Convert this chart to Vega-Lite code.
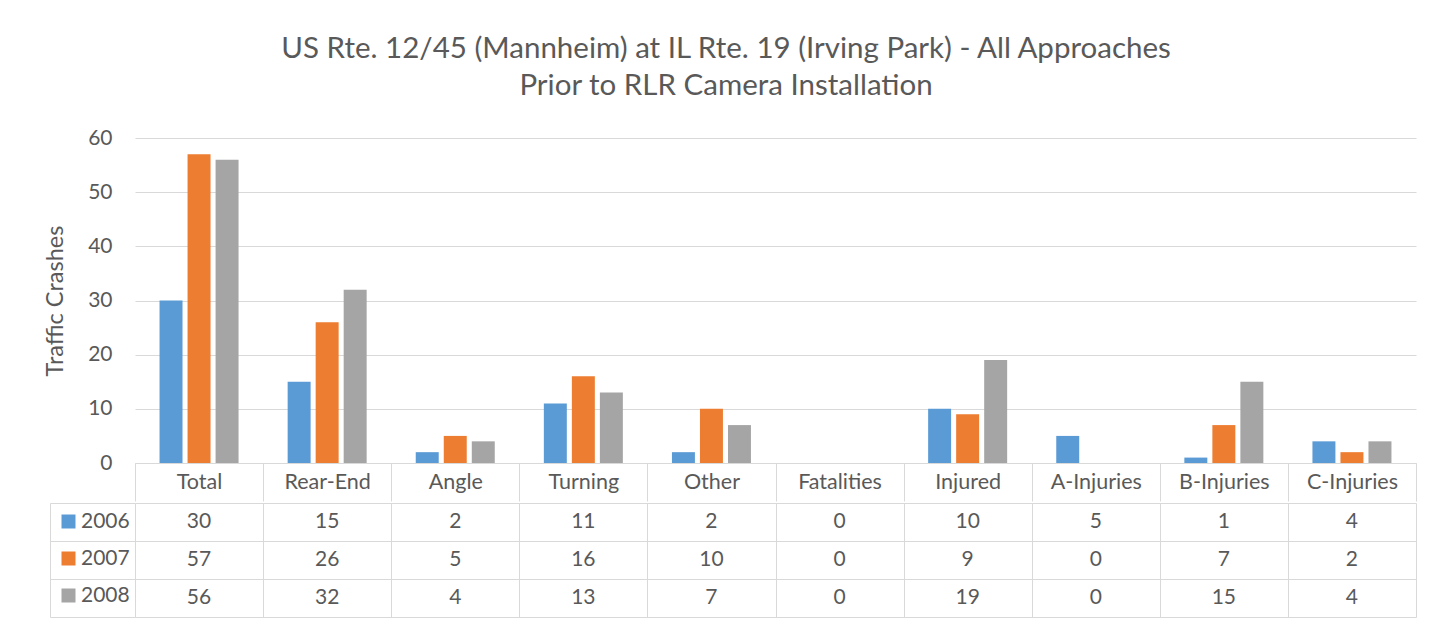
{
  "$schema": "https://vega.github.io/schema/vega-lite/v6.json",
  "padding": {"left": 43, "top": 33, "right": 5, "bottom": 5},
  "background": "white",
  "title": {
    "text": ["US Rte. 12/45 (Mannheim) at IL Rte. 19 (Irving Park) - All Approaches", "Prior to RLR Camera Installation"],
    "font": "Lato", "fontSize": 29.5, "fontWeight": "normal", "color": "#595959",
    "anchor": "middle", "lineHeight": 37, "offset": 26, "dx": -4
  },
  "data": {"values": [
    {"category": "Total", "year": "2006", "value": 30},
    {"category": "Rear-End", "year": "2006", "value": 15},
    {"category": "Angle", "year": "2006", "value": 2},
    {"category": "Turning", "year": "2006", "value": 11},
    {"category": "Other", "year": "2006", "value": 2},
    {"category": "Fatalities", "year": "2006", "value": 0},
    {"category": "Injured", "year": "2006", "value": 10},
    {"category": "A-Injuries", "year": "2006", "value": 5},
    {"category": "B-Injuries", "year": "2006", "value": 1},
    {"category": "C-Injuries", "year": "2006", "value": 4},
    {"category": "Total", "year": "2007", "value": 57},
    {"category": "Rear-End", "year": "2007", "value": 26},
    {"category": "Angle", "year": "2007", "value": 5},
    {"category": "Turning", "year": "2007", "value": 16},
    {"category": "Other", "year": "2007", "value": 10},
    {"category": "Fatalities", "year": "2007", "value": 0},
    {"category": "Injured", "year": "2007", "value": 9},
    {"category": "A-Injuries", "year": "2007", "value": 0},
    {"category": "B-Injuries", "year": "2007", "value": 7},
    {"category": "C-Injuries", "year": "2007", "value": 2},
    {"category": "Total", "year": "2008", "value": 56},
    {"category": "Rear-End", "year": "2008", "value": 32},
    {"category": "Angle", "year": "2008", "value": 4},
    {"category": "Turning", "year": "2008", "value": 13},
    {"category": "Other", "year": "2008", "value": 7},
    {"category": "Fatalities", "year": "2008", "value": 0},
    {"category": "Injured", "year": "2008", "value": 19},
    {"category": "A-Injuries", "year": "2008", "value": 0},
    {"category": "B-Injuries", "year": "2008", "value": 15},
    {"category": "C-Injuries", "year": "2008", "value": 4}
  ]},
  "spacing": 0,
  "vconcat": [
    {
      "width": 1281,
      "height": 325,
      "view": {"stroke": null},
      "mark": {"type": "bar"},
      "encoding": {
        "x": {
          "field": "category", "type": "nominal",
          "sort": ["Total", "Rear-End", "Angle", "Turning", "Other", "Fatalities", "Injured", "A-Injuries", "B-Injuries", "C-Injuries"],
          "scale": {"paddingInner": 0, "paddingOuter": 0},
          "axis": {
            "title": null, "labelAngle": 0, "grid": false,
            "domainColor": "#d9d9d9", "tickColor": "#d9d9d9", "tickSize": 38, "tickBand": "extent",
            "labelPadding": -19, "labelBaseline": "middle",
            "labelFont": "Lato", "labelFontSize": 21.5, "labelColor": "#595959"
          }
        },
        "xOffset": {"field": "year", "type": "nominal", "scale": {"paddingInner": 0.18, "paddingOuter": 0.876}},
        "y": {
          "field": "value", "type": "quantitative",
          "scale": {"domain": [0, 60]},
          "axis": {
            "values": [0, 10, 20, 30, 40, 50, 60],
            "title": "Traffic Crashes", "titleFont": "Lato", "titleFontSize": 23.5, "titleFontWeight": "normal", "titleColor": "#595959", "titlePadding": 20,
            "domain": false, "ticks": false, "labelPadding": 23,
            "labelFont": "Lato", "labelFontSize": 21, "labelColor": "#595959",
            "gridColor": "#d9d9d9", "gridWidth": 1
          }
        },
        "color": {
          "field": "year", "type": "nominal",
          "scale": {"domain": ["2006", "2007", "2008"], "range": ["#5b9bd5", "#ed7d31", "#a5a5a5"]},
          "legend": {
            "orient": "none", "legendX": -77, "legendY": 373, "title": null,
            "symbolType": "square", "symbolSize": 196, "symbolStrokeWidth": 0, "symbolOpacity": 1,
            "labelFont": "Lato", "labelFontSize": 21, "labelColor": "#595959", "labelOffset": 2,
            "rowPadding": 15, "padding": 0
          }
        }
      }
    },
    {
      "width": 1281,
      "height": 114,
      "view": {"stroke": null},
      "mark": {"type": "text", "font": "Lato", "fontSize": 21, "color": "#595959"},
      "encoding": {
        "x": {
          "field": "category", "type": "nominal",
          "sort": ["Total", "Rear-End", "Angle", "Turning", "Other", "Fatalities", "Injured", "A-Injuries", "B-Injuries", "C-Injuries"],
          "scale": {"paddingInner": 0, "paddingOuter": 0},
          "axis": {"title": null, "labels": false, "ticks": false, "domain": false, "grid": true, "tickBand": "extent", "gridColor": "#d9d9d9"}
        },
        "y": {
          "field": "year", "type": "nominal",
          "scale": {"paddingInner": 0, "paddingOuter": 0},
          "axis": {
            "title": null, "labels": false, "grid": true, "tickBand": "extent", "gridColor": "#d9d9d9",
            "ticks": true, "tickSize": -85, "tickColor": "#d9d9d9",
            "domain": true, "domainColor": "#d9d9d9", "offset": 85
          }
        },
        "text": {"field": "value", "type": "quantitative"}
      }
    }
  ]
}
